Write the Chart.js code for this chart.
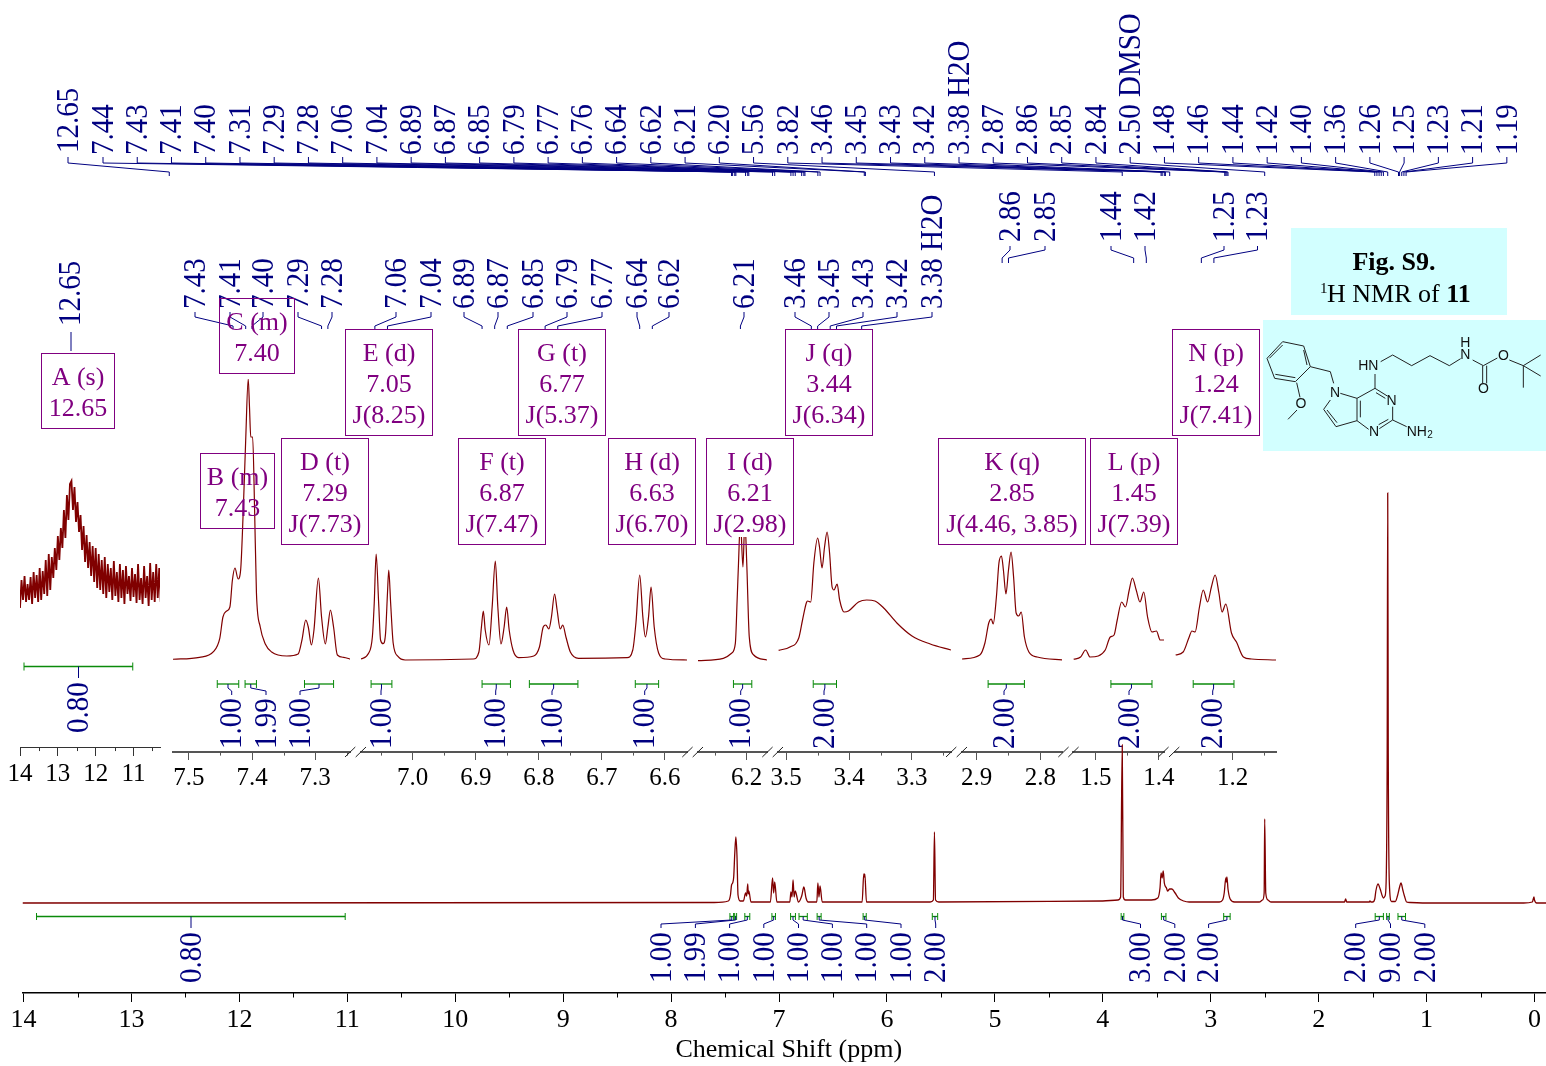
<!DOCTYPE html>
<html>
<head>
<meta charset="utf-8">
<title>1H NMR of 11</title>
<script src="https://cdn.jsdelivr.net/npm/chart.js@4"></script>
<style>
  html, body { margin: 0; padding: 0; background: #fff; overflow: hidden; width: 1546px; height: 1066px; }
  canvas { position: absolute; }
</style>
</head>
<body>
<script>
// Full spectrum (ppm, intensity)
const fullPpm = [14.01,7.6,7.47,7.45,7.44,7.43,7.42,7.41,7.40,7.39,7.38,7.36,7.33,7.31,7.30,7.29,7.285,7.28,7.26,7.08,7.06,7.05,7.04,7.02,6.9,6.89,6.88,6.87,6.86,6.85,6.82,6.79,6.77,6.75,6.73,6.65,6.64,6.63,6.62,6.60,6.23,6.215,6.21,6.205,6.19,5.6,5.57,5.56,5.55,5.52,4.0,3.86,3.835,3.82,3.81,3.79,3.55,3.49,3.47,3.46,3.45,3.44,3.43,3.41,3.40,3.38,3.36,3.33,3.3,3.25,3.2,2.92,2.89,2.875,2.86,2.855,2.85,2.84,2.82,2.78,2.55,2.52,2.505,2.50,2.49,2.47,2.44,1.78,1.76,1.75,1.74,1.53,1.525,1.515,1.50,1.48,1.47,1.45,1.43,1.41,1.40,1.385,1.375,1.365,1.36,1.355,1.345,1.325,1.29,1.27,1.25,1.237,1.22,1.205,1.185,1.15,1.0,0.1,0.02,0.005,0.0,-0.02,-0.19];
const fullInt = [0,0.5,2,8,18,20,26,50,66,48,8,2,2,10,7,19,9,12,1,1,25,10,21,1,1,11,6,23,6,12,1,7,16,5,1,1,20,6,17,1,1,29,26,29,1,1,3,71,3,1,2,3,6,158,6,3,3,5,15,30,25,32,20,15,12,14,14,10,5,2,1,1,3,10,25,21,26,14,4,1,1,3,10,84,10,3,1,1,1,4,1,1,2,1,1,4,12,19,14,7,5,7,20,150,410,150,20,1.5,1.5,7,16,20,13,7,1,0.5,0,0,1,6,3,0,0];

// Expanded regions
const aPpm = [14.04,14.00,13.96,13.92,13.88,13.84,13.80,13.76,13.72,13.68,13.64,13.60,13.56,13.52,13.48,13.44,13.40,13.36,13.32,13.28,13.24,13.20,13.16,13.12,13.08,13.04,13.00,12.96,12.92,12.88,12.84,12.80,12.76,12.72,12.68,12.64,12.60,12.56,12.52,12.48,12.44,12.40,12.36,12.32,12.28,12.24,12.20,12.16,12.12,12.08,12.04,12.00,11.96,11.92,11.88,11.84,11.80,11.76,11.72,11.68,11.64,11.60,11.56,11.52,11.48,11.44,11.40,11.36,11.32,11.28,11.24,11.20,11.16,11.12,11.08,11.04,11.00,10.96,10.92,10.88,10.84,10.80,10.76,10.72,10.68,10.64,10.60,10.56,10.52,10.48,10.44,10.40,10.36,10.32,10.28];
const aInt = [82,52,80,60,84,58,76,60,83,56,88,62,85,58,92,60,89,66,100,64,106,70,103,82,112,90,124,100,132,112,150,122,165,140,176,179,150,173,138,158,128,145,110,134,98,125,92,118,84,114,78,112,72,106,70,100,66,103,62,96,68,92,60,99,64,88,58,96,62,90,56,94,66,84,59,92,63,86,57,96,60,82,56,94,62,84,54,97,60,88,58,96,62,92,58];

const bPpm = [7.526,7.483,7.461,7.451,7.446,7.440,7.435,7.431,7.427,7.422,7.418,7.414,7.410,7.406,7.404,7.402,7.399,7.396,7.393,7.387,7.379,7.369,7.345,7.327,7.321,7.315,7.311,7.306,7.302,7.295,7.29,7.284,7.280,7.276,7.271,7.265,7.255,7.244];
const bInt = [0.7,2.7,8.3,21.7,43,49,53,80,92,81,90,147,220,281,253,223,223,153,67,33,16,8,4,6,20,40,33,15,30,82,43,16,33,50,33,5,2.7,0.7];

const cPpm = [7.082,7.070,7.064,7.061,7.058,7.054,7.051,7.047,7.043,7.04,7.038,7.035,7.031,7.023,7.012,6.904,6.895,6.891,6.888,6.885,6.879,6.874,6.869,6.865,6.860,6.855,6.851,6.847,6.841,6.832,6.808,6.799,6.793,6.789,6.784,6.780,6.775,6.771,6.766,6.762,6.757,6.750,6.737,6.660,6.651,6.646,6.640,6.635,6.631,6.626,6.622,6.617,6.610,6.600,6.565];
const cInt = [1,6.7,23,57,106,57,20,16.3,27,67,90,57,17,3.3,0,1,8,33,49,30,15,53,99,53,16,33,53,30,10,2.3,4,13,33,35,31,43,66,50,31,35,23,8,1.7,2.3,10,37,85,43,23,43,73,33,7,1,0];

const iPpm = [6.277,6.237,6.224,6.218,6.215,6.213,6.21,6.206,6.203,6.2,6.196,6.189,6.168];
const iInt = [-0.7,1.7,6.7,16.7,63,97,140,93,140,97,23,5,0];

const jPpm = [3.512,3.494,3.480,3.474,3.468,3.466,3.461,3.456,3.450,3.447,3.443,3.439,3.435,3.431,3.427,3.424,3.419,3.415,3.408,3.401,3.385,3.372,3.359,3.345,3.324,3.3,3.271,3.238];
const jInt = [9.7,13,22,40,57,59,58,97,122,113,92,113,128,107,73,70,76,60,48,49,58,60,59,52,37,24,16,10];

const kPpm = [2.923,2.895,2.887,2.881,2.877,2.874,2.869,2.865,2.861,2.858,2.854,2.850,2.846,2.842,2.838,2.834,2.830,2.825,2.818,2.805,2.763];
const kInt = [1,5,17,37,41,36,63,97,104,90,66,90,108,83,47,44,48,23,8,3,0];

const lPpm = [1.535,1.524,1.516,1.509,1.496,1.485,1.477,1.471,1.466,1.459,1.453,1.447,1.442,1.436,1.430,1.424,1.418,1.411,1.404,1.398,1.392];
const lInt = [0.7,3,10,3,4,10,23,25,40,58,53,70,82,70,58,68,43,28,29,20,20];

const nPpm = [1.291,1.279,1.270,1.265,1.260,1.253,1.247,1.240,1.234,1.228,1.222,1.217,1.211,1.202,1.194,1.183,1.170,1.131];
const nInt = [5,8,22,29,28,53,70,58,73,85,67,48,56,27,18,3,1,0];

// Peak picking labels
const topLabels = ['12.65','7.44','7.43','7.41','7.40','7.31','7.29','7.28','7.06','7.04','6.89','6.87','6.85','6.79','6.77','6.76','6.64','6.62','6.21','6.20','5.56','3.82','3.46','3.45','3.43','3.42','3.38 H2O','2.87','2.86','2.85','2.84','2.50 DMSO','1.48','1.46','1.44','1.42','1.40','1.36','1.26','1.25','1.23','1.21','1.19'];
const insetLabels = ['7.43','7.41','7.40','7.29','7.28','7.06','7.04','6.89','6.87','6.85','6.79','6.77','6.64','6.62','6.21','3.46','3.45','3.43','3.42','3.38 H2O'];
const insetLabelX = [195,230,263,298,332,396,431,464,498,533,567,602,637,669,744,795,829,863,897,932];
const upperLabels = ['2.86','2.85','1.44','1.42','1.25','1.23'];
const upperLabelX = [1010,1045,1111,1145,1224,1257.5];

// Multiplet boxes: name, lines
const boxNames = ['A (s)','C (m)','B (m)','D (t)','E (d)','F (t)','G (t)','H (d)','I (d)','J (q)','K (q)','L (p)','N (p)'];
const boxShifts = ['12.65','7.40','7.43','7.29','7.05','6.87','6.77','6.63','6.21','3.44','2.85','1.45','1.24'];
const boxCouplings = ['','','','J(7.73)','J(8.25)','J(7.47)','J(5.37)','J(6.70)','J(2.98)','J(6.34)','J(4.46, 3.85)','J(7.39)','J(7.41)'];
const boxRects = [[41.5,353.5,73,75],[219.5,298.5,75,75],[200.5,453.5,74,75],[281.5,438.5,87,106],[345.5,329.5,87,106],[458.5,438.5,87,106],[518.5,329.5,87,106],[608.5,438.5,87,106],[706.5,438.5,87,106],[785.5,329.5,87,106],[938.5,438.5,147,106],[1090.5,438.5,87,106],[1172.5,329.5,87,106]];

// Integrals: range in ppm, value
const integralHi = [7.455,7.411,7.317,7.066,6.89,6.815,6.647,6.221,3.457,2.882,1.476,1.263];
const integralLo = [7.421,7.393,7.271,7.033,6.845,6.738,6.61,6.192,3.42,2.825,1.411,1.198];
const integralVal = ['1.00','1.99','1.00','1.00','1.00','1.00','1.00','1.00','2.00','2.00','2.00','2.00'];
const integralLabelX = [231.7,266,300,381,495.7,552,644.7,740.7,824,1004,1129,1212.7];

const fullIntHi = [7.455,7.411,7.317,7.066,6.893,6.815,6.647,6.221,5.58,3.83,3.457,2.88,1.476,1.37,1.265];
const fullIntLo = [7.421,7.393,7.271,7.033,6.848,6.738,6.61,6.192,5.53,3.805,3.415,2.82,1.40,1.345,1.195];
const fullIntVal = ['1.00','1.99','1.00','1.00','1.00','1.00','1.00','1.00','2.00','3.00','2.00','2.00','2.00','9.00','2.00'];
const fullIntLabelX = [661,695.4,729.6,763.8,798.5,832.4,866.7,901,935.7,1140.5,1174.8,1208.6,1355.7,1390.5,1424.8];

const SERIF = '"Liberation Serif", "Times New Roman", serif';
const RED = '#800000', NAVY = '#000080', PURPLE = '#800080', GREEN = '#0a8a0a';

Chart.defaults.animation = false;
Chart.defaults.responsive = false;
Chart.defaults.devicePixelRatio = 1;
Chart.defaults.font.family = SERIF;
Chart.defaults.plugins.legend.display = false;
Chart.defaults.plugins.tooltip.enabled = false;

const panels = [];

// short ticks between the labelled ones
const minorTicks = {
  id: 'minorTicks',
  afterDraw(chart, args, opts) {
    const s = chart.scales.x, ctx = chart.ctx;
    ctx.save();
    ctx.strokeStyle = opts.color;
    ctx.lineWidth = 1;
    s.ticks.forEach(t => {
      if (opts.isMajor(t.value)) return;
      const x = Math.round(s.getPixelForValue(t.value)) + 0.5;
      ctx.beginPath();
      ctx.moveTo(x, s.top);
      ctx.lineTo(x, s.top + opts.length);
      ctx.stroke();
    });
    ctx.restore();
  }
};

function toPoints(ppm, vals) {
  return ppm.map((p, i) => ({ x: p, y: vals[i] }));
}

function addPanel(cfg) {
  const M = 40, below = 45;
  const canvas = document.createElement('canvas');
  canvas.width = cfg.right - cfg.left + 2 * M;
  canvas.height = cfg.axisY - cfg.topY + 2 + below;
  canvas.style.left = (cfg.left - M) + 'px';
  canvas.style.top = (cfg.topY - 2) + 'px';
  document.body.appendChild(canvas);
  const isMajor = v => Math.abs(v / cfg.major - Math.round(v / cfg.major)) < 1e-6;
  const chart = new Chart(canvas, {
    type: 'line',
    data: { datasets: [{
      data: toPoints(cfg.ppm, cfg.vals),
      borderColor: RED, borderWidth: cfg.lineWidth || 1.2, pointRadius: 0,
      cubicInterpolationMode: cfg.straight ? 'default' : 'monotone', tension: 0
    }] },
    options: {
      parsing: false,
      layout: { padding: { left: M, right: M, top: 2, bottom: 0 } },
      scales: {
        x: {
          type: 'linear', reverse: true, min: cfg.lo, max: cfg.hi,
          afterFit: s => { s.height = below; },
          border: { color: cfg.axisColor, width: cfg.axisWidth },
          grid: { drawOnChartArea: false, tickLength: cfg.tickLen, tickWidth: 1,
            tickColor: c => isMajor(c.tick.value) ? cfg.axisColor : 'rgba(0,0,0,0)' },
          ticks: { stepSize: cfg.major / 2, autoSkip: false, maxRotation: 0, includeBounds: false,
            color: '#000', padding: 3, font: { size: 25 },
            callback: v => isMajor(v) ? v.toFixed(cfg.digits) : '' }
        },
        y: { display: false, min: 660 - cfg.axisY, max: 660 - cfg.topY }
      },
      plugins: { minorTicks: { color: cfg.axisColor, length: cfg.tickLen * 0.45, isMajor } }
    },
    plugins: [minorTicks]
  });
  panels.push({ chart, hi: cfg.hi, lo: cfg.lo, left: cfg.left - M });
}

const inset = { axisY: 752, topY: 379, major: 0.1, digits: 1, tickLen: 8, axisColor: '#555', axisWidth: 2 };
addPanel({ ...inset, ppm: aPpm, vals: aInt, hi: 14, lo: 10.3, left: 20, right: 160, axisY: 747, major: 1, digits: 0, tickLen: 9, axisColor: '#333', axisWidth: 1, lineWidth: 1.8, straight: true });
addPanel({ ...inset, ppm: bPpm, vals: bInt, hi: 7.525, lo: 7.245, left: 173, right: 350 });
addPanel({ ...inset, ppm: cPpm, vals: cInt, hi: 7.082, lo: 6.565, left: 361, right: 687 });
addPanel({ ...inset, ppm: iPpm, vals: iInt, hi: 6.277, lo: 6.168, left: 698, right: 767, topY: 537 });
addPanel({ ...inset, ppm: jPpm, vals: jInt, hi: 3.513, lo: 3.238, left: 778, right: 951 });
addPanel({ ...inset, ppm: kPpm, vals: kInt, hi: 2.923, lo: 2.766, left: 962, right: 1062 });
addPanel({ ...inset, ppm: lPpm, vals: lInt, hi: 1.536, lo: 1.392, left: 1073, right: 1164 });
addPanel({ ...inset, ppm: nPpm, vals: nInt, hi: 1.292, lo: 1.131, left: 1175, right: 1276 });

function insetPixel(ppm) {
  const p = panels.find(q => ppm <= q.hi && ppm >= q.lo) ||
    panels.reduce((a, b) => Math.min(Math.abs(ppm - a.hi), Math.abs(ppm - a.lo)) < Math.min(Math.abs(ppm - b.hi), Math.abs(ppm - b.lo)) ? a : b);
  return p.chart.scales.x.getPixelForValue(ppm) + p.left;
}

function vText(ctx, str, x, base, size, color) {
  ctx.save();
  ctx.translate(x + 1.5, base);
  ctx.rotate(-Math.PI / 2);
  ctx.scale(1, 1.08);
  ctx.font = size + 'px ' + SERIF;
  ctx.fillStyle = color;
  ctx.textAlign = 'left';
  ctx.textBaseline = 'middle';
  ctx.fillText(str, 0, 0);
  ctx.restore();
}

function poly(ctx, pts, color, width) {
  ctx.strokeStyle = color;
  ctx.lineWidth = width || 1;
  ctx.beginPath();
  pts.forEach((p, i) => i ? ctx.lineTo(p[0], p[1]) : ctx.moveTo(p[0], p[1]));
  ctx.stroke();
}

function drawBar(ctx, x1, x2, y, tick) {
  poly(ctx, [[x1, y], [x2, y]], GREEN, 1.3);
  poly(ctx, [[x1, y - tick], [x1, y + tick]], GREEN, 1);
  poly(ctx, [[x2, y - tick], [x2, y + tick]], GREEN, 1);
}

function drawMolecule(ctx) {
  const mx = v => 1250 + v / 3, my = v => 220 + v / 3;
  const bonds = [
    [[98,365],[161,378],[181,440],[136,485],[74,475],[51,415],[98,365]],
    [[58,415],[98,375]], [[161,390],[171,435]], [[136,473],[76,463]],
    [[181,440],[241,455],[251,490]],
    [[140,488],[150,532]], [[141,570],[114,598]],
    [[241,540],[221,568],[258,620],[321,602],[321,535],[271,520]],
    [[231,570],[261,608]],
    [[321,535],[375,505],[412,528]], [[378,518],[406,535]],
    [[428,560],[428,600],[388,626]], [[415,598],[386,614]], [[356,628],[321,602]],
    [[331,542],[331,592]],
    [[375,505],[375,462]],
    [[392,425],[428,405],[485,437],[540,407],[598,437],[632,416]],
    [[668,420],[700,437],[742,414]],
    [[778,420],[820,437],[872,405]], [[820,437],[872,468]], [[820,437],[820,503]],
    [[698,437],[698,490]], [[710,437],[710,490]],
    [[428,600],[470,620]]
  ];
  ctx.save();
  bonds.forEach(b => poly(ctx, b.map(p => [mx(p[0]), my(p[1])]), '#222', 1));
  ctx.fillStyle = '#111';
  ctx.font = '14px "Liberation Sans", Arial, sans-serif';
  ctx.textAlign = 'center';
  ctx.textBaseline = 'middle';
  [['N',255,520],['O',153,552],['N',425,543],['N',372,635],['HN',355,438],['H',646,368],['N',646,406],['O',760,407],['O',700,506]]
    .forEach(t => ctx.fillText(t[0], mx(t[1]), my(t[2])));
  ctx.textAlign = 'left';
  ctx.fillText('NH', mx(470), my(636));
  ctx.font = '10px "Liberation Sans", Arial, sans-serif';
  ctx.fillText('2', mx(532), my(645));
  ctx.restore();
}

// All annotations sit under the spectrum trace of the main chart
const annotations = {
  id: 'annotations',
  beforeDatasetsDraw(chart) {
    const ctx = chart.ctx, sx = chart.scales.x;
    ctx.save();

    // caption boxes
    ctx.fillStyle = '#d2ffff';
    ctx.fillRect(1291, 228, 216, 87);
    ctx.fillRect(1263, 320, 283, 131);
    ctx.fillStyle = '#000';
    ctx.textBaseline = 'alphabetic';
    ctx.textAlign = 'center';
    ctx.font = 'bold 26px ' + SERIF;
    ctx.fillText('Fig. S9.', 1394, 270);
    ctx.textAlign = 'left';
    ctx.font = '15px ' + SERIF;
    ctx.fillText('1', 1320, 293);
    ctx.font = '26px ' + SERIF;
    ctx.fillText('H NMR of ', 1327, 302);
    const w = ctx.measureText('H NMR of ').width;
    ctx.font = 'bold 26px ' + SERIF;
    ctx.fillText('11', 1327 + w, 302);
    drawMolecule(ctx);

    // top peak list
    topLabels.forEach((label, i) => {
      const lx = i === 0 ? 68 : 103 + 34.24 * (i - 1);
      const px = sx.getPixelForValue(parseFloat(label));
      vText(ctx, label, lx, i === 0 ? 153 : 155, 29, NAVY);
      poly(ctx, [[lx, 157], [lx, 163], [px, 172], [px, 176]], NAVY, 1);
    });

    // peak lists over the expansions
    vText(ctx, '12.65', 70, 326, 29, NAVY);
    poly(ctx, [[71, 332], [71, 351]], NAVY, 1);
    insetLabels.forEach((label, i) => {
      const lx = insetLabelX[i], px = insetPixel(parseFloat(label));
      vText(ctx, label, lx, 309, 29, NAVY);
      poly(ctx, [[lx, 312], [lx, 317], [px, 326], [px, 329]], NAVY, 1);
    });
    upperLabels.forEach((label, i) => {
      const lx = upperLabelX[i], px = insetPixel(parseFloat(label));
      vText(ctx, label, lx, 242, 29, NAVY);
      poly(ctx, [[lx, 246], [lx, 250], [px, 258], [px, 263]], NAVY, 1);
    });

    // multiplet boxes
    boxNames.forEach((name, i) => {
      const r = boxRects[i];
      ctx.strokeStyle = PURPLE;
      ctx.lineWidth = 1;
      ctx.strokeRect(r[0], r[1], r[2], r[3]);
      ctx.fillStyle = PURPLE;
      ctx.font = '26px ' + SERIF;
      ctx.textAlign = 'center';
      ctx.textBaseline = 'alphabetic';
      const cx = r[0] + r[2] / 2;
      ctx.fillText(name, cx, r[1] + 31);
      ctx.fillText(boxShifts[i], cx, r[1] + 62);
      if (boxCouplings[i]) ctx.fillText(boxCouplings[i], cx, r[1] + 93);
    });

    // integrals on the expansions
    const a = panels[0].chart.scales.x;
    const ax1 = a.getPixelForValue(13.894) + panels[0].left, ax2 = a.getPixelForValue(11.02) + panels[0].left;
    drawBar(ctx, ax1, ax2, 666.5, 4);
    poly(ctx, [[78.5, 666.5], [78.5, 678]], NAVY, 1);
    vText(ctx, '0.80', 78, 733, 29, NAVY);
    integralVal.forEach((val, i) => {
      const x1 = insetPixel(integralHi[i]), x2 = insetPixel(integralLo[i]);
      const mid = (x1 + x2) / 2, lx = integralLabelX[i];
      drawBar(ctx, x1, x2, 684, 4);
      poly(ctx, [[mid, 684], [mid, 688], [lx, 691], [lx, 695]], NAVY, 1);
      vText(ctx, val, lx, 749, 29, NAVY);
    });

    // integrals on the full spectrum
    drawBar(ctx, sx.getPixelForValue(13.88), sx.getPixelForValue(11.02), 916.5, 3.5);
    poly(ctx, [[191, 916.5], [191, 928]], NAVY, 1);
    vText(ctx, '0.80', 191, 983, 29, NAVY);
    fullIntVal.forEach((val, i) => {
      const x1 = sx.getPixelForValue(fullIntHi[i]), x2 = sx.getPixelForValue(fullIntLo[i]);
      const mid = (x1 + x2) / 2, lx = fullIntLabelX[i];
      drawBar(ctx, x1, x2, 916.5, 3.5);
      poly(ctx, [[mid, 916.5], [mid, 920], [lx, 924], [lx, 928]], NAVY, 1);
      vText(ctx, val, lx, 983, 29, NAVY);
    });

    // axis break marks
    [345, 355.7, 682.3, 692.7, 762.3, 772.7, 946, 956.7, 1058.3, 1068.3, 1158.3, 1169].forEach(x => {
      poly(ctx, [[x, 757], [x + 10.3, 747]], '#222', 1);
    });
    ctx.restore();
  }
};

const mainCanvas = document.createElement('canvas');
mainCanvas.width = 1560;
mainCanvas.height = 1066;
mainCanvas.style.left = '0px';
mainCanvas.style.top = '0px';
document.body.appendChild(mainCanvas);

const isWhole = v => Math.abs(v - Math.round(v)) < 1e-6;
new Chart(mainCanvas, {
  type: 'line',
  data: { datasets: [{
    data: toPoints(fullPpm, fullInt),
    borderColor: RED, borderWidth: 1.3, pointRadius: 0,
    cubicInterpolationMode: 'monotone'
  }] },
  options: {
    parsing: false,
    layout: { padding: { left: 22.5, right: 5, top: 403, bottom: 0 } },
    scales: {
      x: {
        type: 'linear', reverse: true, min: -0.19, max: 14.01,
        afterFit: s => { s.height = 73; },
        border: { color: '#000', width: 1.5 },
        grid: { drawOnChartArea: false, tickLength: 9, tickWidth: 1,
          tickColor: c => isWhole(c.tick.value) ? '#000' : 'rgba(0,0,0,0)' },
        ticks: { stepSize: 0.5, autoSkip: false, maxRotation: 0, includeBounds: false,
          color: '#000', padding: 3, font: { size: 26 },
          callback: v => isWhole(v) ? String(v) : '' },
        title: { display: true, text: 'Chemical Shift (ppm)', color: '#000', font: { size: 26 }, padding: { top: 0, bottom: 0 } }
      },
      y: { display: false, min: -90, max: 500 }
    },
    plugins: { minorTicks: { color: '#000', length: 4.5, isMajor: isWhole } }
  },
  plugins: [annotations, minorTicks]
});
</script>
</body>
</html>
